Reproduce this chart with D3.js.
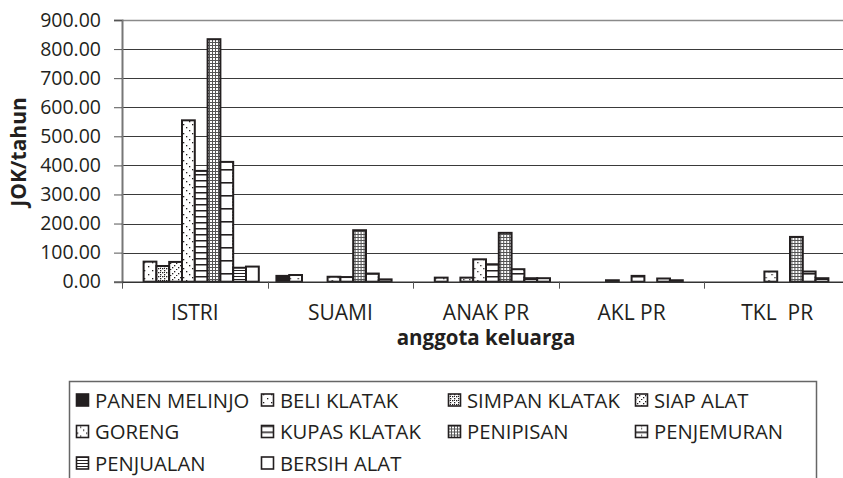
<!DOCTYPE html>
<html><head><meta charset="utf-8">
<script src="https://cdn.jsdelivr.net/npm/d3@7"></script>
<style>
body{margin:0;background:#fff}
text{font-family:"Open Sans",sans-serif;fill:#231f20}
</style></head>
<body><svg id="c" width="843" height="478"></svg>
<script>
// ---- data ----
const categories = ["ISTRI", "SUAMI", "ANAK PR", "AKL PR", "TKL  PR"];
const seriesNames = ["PANEN MELINJO","BELI KLATAK","SIMPAN KLATAK","SIAP ALAT","GORENG","KUPAS KLATAK","PENIPISAN","PENJEMURAN","PENJUALAN","BERSIH ALAT"];
const panenMelinjo = [0, 20, 0, 0, 0];
const beliKlatak   = [69, 23, 14, 0, 0];
const simpanKlatak = [54, 0, 0, 0, 0];
const siapAlat     = [68, 0, 14, 5, 0];
const goreng       = [555, 17, 77, 0, 35];
const kupasKlatak  = [381, 16, 60, 20, 0];
const penipisan    = [834, 177, 168, 0, 154];
const penjemuran   = [412, 28, 43, 11, 35];
const penjualan    = [48, 8, 12, 5, 12];
const bersihAlat   = [52, 0, 12, 0, 0];
const seriesValues = [panenMelinjo, beliKlatak, simpanKlatak, siapAlat, goreng, kupasKlatak, penipisan, penjemuran, penjualan, bersihAlat];
const yTicks = [0, 100, 200, 300, 400, 500, 600, 700, 800, 900];
const yTickLabels = ["0.00","100.00","200.00","300.00","400.00","500.00","600.00","700.00","800.00","900.00"];
const yTitle = "JOK/tahun";
const xTitle = "anggota keluarga";

// ---- drawing ----
const svg = d3.select("#c");
const ink = "#231f20";
const defs = svg.append("defs");
function pat(id, w, h, draw){
  const p = defs.append("pattern").attr("id", id).attr("patternUnits","userSpaceOnUse").attr("width", w).attr("height", h);
  p.append("rect").attr("width", w).attr("height", h).attr("fill", "#fff");
  draw(p);
}
const dot = (p, x, y, s=1.3) => p.append("rect").attr("x", x).attr("y", y).attr("width", s).attr("height", s).attr("fill", ink);
pat("p1", 8, 8, p => { dot(p,2,2); dot(p,6,6); });
pat("p2", 4, 4, p => { dot(p,0,0); dot(p,2,2); dot(p,2,0,1); });
pat("p3", 6, 6, p => { dot(p,0,5); dot(p,2,3); dot(p,4,1); });
pat("p4", 9, 9, p => { dot(p,1,1); dot(p,4,4); dot(p,7,7); });
pat("p5", 6, 6, p => { p.append("rect").attr("width",6).attr("height",1.5).attr("fill",ink); });
pat("p6", 3, 3, p => { p.append("rect").attr("width",3).attr("height",1).attr("fill","#555"); p.append("rect").attr("width",1).attr("height",3).attr("fill","#555"); });
pat("p7", 13, 13, p => { p.append("rect").attr("width",13).attr("height",1.6).attr("fill",ink); [3.5,6.5,9.5].forEach(y=>dot(p,6,y,1.2)); });
pat("p8", 3, 3, p => { p.append("rect").attr("width",3).attr("height",1).attr("fill",ink); });
const fills = [ink, "url(#p1)", "url(#p2)", "url(#p3)", "url(#p4)", "url(#p5)", "url(#p6)", "url(#p7)", "url(#p8)", "#fff"];

const plotL = 122, plotR = 850, plotT = 20, plotB = 281.7;
const x0 = d3.scaleBand().domain(categories).range([plotL, plotR]).padding(0);
const gw = x0.bandwidth();
const gap = gw * 0.0605;
const x1 = d3.scaleBand().domain(seriesNames).range([gap, gw - gap]).padding(0);
const y = d3.scaleLinear().domain([0, 900]).range([plotB, plotT]);

// gridlines
svg.append("g").selectAll("line").data(yTicks.filter(d => d > 0)).join("line")
  .attr("x1", plotL).attr("x2", 843)
  .attr("y1", d => Math.round(y(d)) + 0.5).attr("y2", d => Math.round(y(d)) + 0.5)
  .attr("stroke", d => d === 900 ? "#8a8a8a" : "#3a3a3a").attr("stroke-width", d => d === 900 ? 1.5 : 1);

// bars
const groups = svg.append("g").selectAll("g").data(categories).join("g")
  .attr("transform", c => `translate(${x0(c)},0)`);
groups.selectAll("rect")
  .data((c, ci) => seriesNames.map((s, si) => ({s, si, v: seriesValues[si][ci]})).filter(d => d.v > 0))
  .join("rect")
  .attr("x", d => x1(d.s)).attr("width", x1.bandwidth())
  .attr("y", d => y(d.v)).attr("height", d => y(0) - y(d.v))
  .attr("fill", d => fills[d.si]).attr("stroke", ink).attr("stroke-width", 2);

// y axis
const yAxis = d3.axisLeft(y).tickValues(yTicks).tickFormat((d, i) => yTickLabels[i]).tickSize(8).tickPadding(13);
const ya = svg.append("g").attr("transform", `translate(${plotL},0)`).call(yAxis);
ya.select(".domain").attr("stroke", "#777").attr("stroke-width", 2);
ya.selectAll(".tick line").attr("stroke", "#555");
ya.selectAll("text").attr("font-size", 19.5).attr("font-family", "Open Sans").attr("fill", ink);

// x axis
const xa = svg.append("g").attr("transform", `translate(0,${plotB})`);
xa.append("line").attr("x1", plotL).attr("x2", 843).attr("y1", 0.5).attr("y2", 0.5).attr("stroke", "#333").attr("stroke-width", 1.5);
xa.selectAll("line.tk").data(categories).join("line").attr("class","tk")
  .attr("x1", c => Math.round(x0(c)) + 0.5).attr("x2", c => Math.round(x0(c)) + 0.5)
  .attr("y1", 0).attr("y2", 7).attr("stroke", "#555");
xa.selectAll("text").data(categories).join("text")
  .attr("x", c => x0(c) + gw / 2).attr("y", 38)
  .attr("text-anchor", "middle").attr("font-size", 21).style("white-space", "pre")
  .text(c => c);

// titles
svg.append("text").attr("x", (plotL + plotR) / 2).attr("y", 345).attr("text-anchor", "middle")
  .attr("font-size", 20.5).attr("font-weight", "bold").text(xTitle);
svg.append("text").attr("transform", "translate(26,152) rotate(-90)").attr("text-anchor", "middle")
  .attr("font-size", 21).attr("font-weight", "bold").text(yTitle);

// legend
const lg = svg.append("g");
lg.append("rect").attr("x", 69.5).attr("y", 381.5).attr("width", 747).attr("height", 130)
  .attr("fill", "none").attr("stroke", "#666").attr("stroke-width", 1.5);
const colX = [76, 261, 448, 635];
const rowY = [400, 431.5, 463];
const items = lg.selectAll("g.it").data(seriesNames).join("g").attr("class", "it")
  .attr("transform", (s, i) => `translate(${colX[i % 4]},${rowY[Math.floor(i / 4)]})`);
items.append("rect").attr("x", 0.5).attr("y", -6).attr("width", 12).attr("height", 12)
  .attr("fill", (s, i) => fills[i]).attr("stroke", ink).attr("stroke-width", 1.6);
items.append("text").attr("x", 19).attr("y", 7.5).attr("font-size", 20.3).text(s => s);
</script></body></html>
